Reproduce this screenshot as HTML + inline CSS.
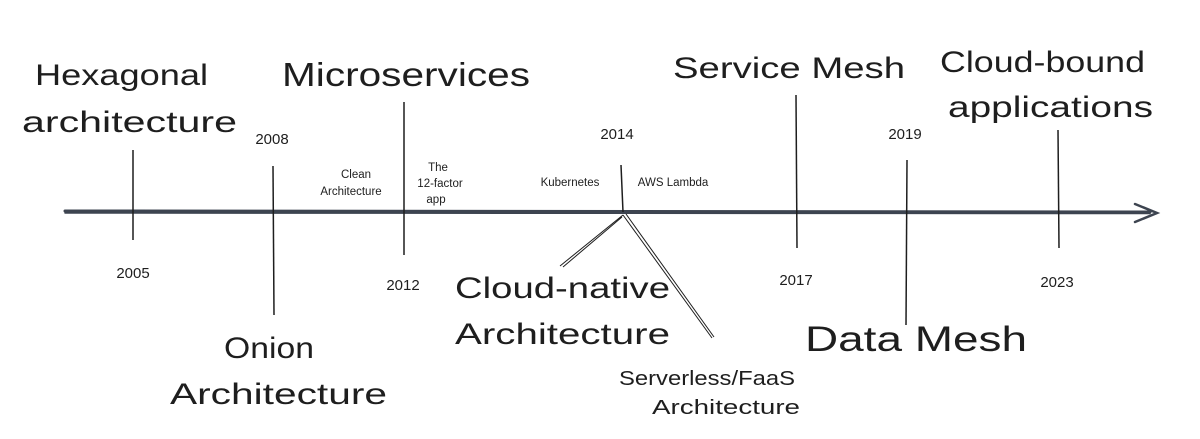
<!DOCTYPE html>
<html><head><meta charset="utf-8"><style>
html,body{margin:0;padding:0;background:#fff;width:1200px;height:439px;overflow:hidden}
svg text{font-family:"Liberation Sans",sans-serif;fill:#1e1e1e}
</style></head><body>
<svg width="1200" height="439" viewBox="0 0 1200 439" xmlns="http://www.w3.org/2000/svg">
<g stroke="#3d4450" fill="none" stroke-linecap="round">
<line x1="65" y1="211" x2="1150" y2="212" stroke-width="3"/>
<line x1="65" y1="213" x2="1150" y2="213.5" stroke-width="1.5"/>
<polyline points="1135,204 1157,213 1135,222" stroke-width="2.5"/>
</g>
<g stroke="#1e1e1e" stroke-width="1.5" fill="none">
<line x1="133" y1="150" x2="133" y2="240"/>
<line x1="273" y1="166" x2="274" y2="315"/>
<line x1="404" y1="102" x2="404" y2="255"/>
<line x1="621" y1="165" x2="623" y2="212"/>
<line x1="796" y1="95" x2="797" y2="248"/>
<line x1="907" y1="160" x2="906" y2="325"/>
<line x1="1058" y1="130" x2="1059" y2="248"/>
<path d="M623 215 L560 266 M622 217 L563 267" stroke-width="1"/>
<path d="M623 215 L712 338 M626 214 L714 337" stroke-width="1"/>
</g>
<g font-size="30">
<text x="35" y="85" textLength="173" lengthAdjust="spacingAndGlyphs">Hexagonal</text>
<text x="22" y="132" textLength="215" lengthAdjust="spacingAndGlyphs">architecture</text>
<text x="282" y="86" textLength="248" lengthAdjust="spacingAndGlyphs" font-size="33">Microservices</text>
<text x="673" y="78" textLength="232" lengthAdjust="spacingAndGlyphs">Service Mesh</text>
<text x="940" y="72" textLength="205" lengthAdjust="spacingAndGlyphs">Cloud-bound</text>
<text x="948" y="117" textLength="205" lengthAdjust="spacingAndGlyphs">applications</text>
<text x="224" y="358" textLength="90" lengthAdjust="spacingAndGlyphs">Onion</text>
<text x="170" y="404" textLength="217" lengthAdjust="spacingAndGlyphs">Architecture</text>
<text x="455" y="298" textLength="215" lengthAdjust="spacingAndGlyphs">Cloud-native</text>
<text x="455" y="344" textLength="215" lengthAdjust="spacingAndGlyphs">Architecture</text>
<text x="805" y="351" textLength="222" lengthAdjust="spacingAndGlyphs" font-size="35">Data Mesh</text>
</g>
<g font-size="20">
<text x="619" y="385" textLength="176" lengthAdjust="spacingAndGlyphs">Serverless/FaaS</text>
<text x="652" y="414" textLength="148" lengthAdjust="spacingAndGlyphs">Architecture</text>
</g>
<g font-size="15" text-anchor="middle">
<text x="272" y="144">2008</text>
<text x="617" y="139">2014</text>
<text x="905" y="139">2019</text>
<text x="133" y="278">2005</text>
<text x="403" y="290">2012</text>
<text x="796" y="285">2017</text>
<text x="1057" y="287">2023</text>
</g>
<g font-size="11.5" text-anchor="middle" fill="#333">
<text x="356" y="178">Clean</text>
<text x="351" y="195">Architecture</text>
<text x="438" y="171">The</text>
<text x="440" y="187">12-factor</text>
<text x="436" y="203">app</text>
<text x="570" y="186">Kubernetes</text>
<text x="673" y="186">AWS Lambda</text>
</g>
</svg>
</body></html>
